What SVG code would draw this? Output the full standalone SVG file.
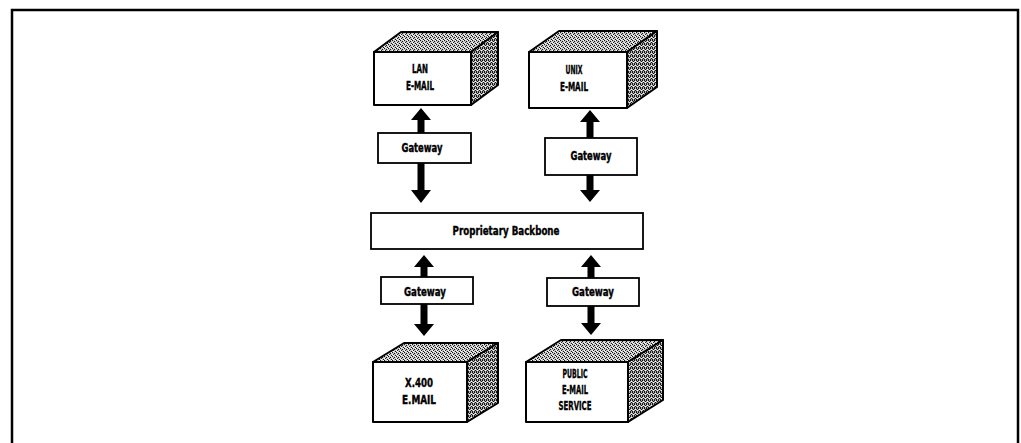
<svg xmlns="http://www.w3.org/2000/svg" width="1021" height="443" viewBox="0 0 1021 443">
  <defs>
    <!-- halftone stipple for the shaded faces of the boxes -->
    <pattern id="stippleTop" width="4" height="4" patternUnits="userSpaceOnUse">
      <rect width="4" height="4" fill="#c4c4c4"/>
      <rect x="0" y="0" width="1" height="1" fill="#111"/>
      <rect x="2" y="1" width="1" height="1" fill="#111"/>
      <rect x="3" y="3" width="1" height="1" fill="#111"/>
      <rect x="1" y="2" width="1" height="1" fill="#222"/>
      <rect x="3" y="0" width="1" height="1" fill="#fff"/>
      <rect x="1" y="3" width="1" height="1" fill="#fff"/>
      <rect x="0" y="2" width="1" height="1" fill="#fff"/>
    </pattern>
    <pattern id="stippleSide" width="4" height="4" patternUnits="userSpaceOnUse">
      <rect width="4" height="4" fill="#ababab"/>
      <rect x="0" y="0" width="1" height="1" fill="#111"/>
      <rect x="2" y="0" width="1" height="1" fill="#111"/>
      <rect x="1" y="1" width="1" height="1" fill="#111"/>
      <rect x="3" y="2" width="1" height="1" fill="#111"/>
      <rect x="0" y="3" width="1" height="1" fill="#111"/>
      <rect x="2" y="3" width="1" height="1" fill="#222"/>
      <rect x="3" y="1" width="1" height="1" fill="#fff"/>
      <rect x="1" y="2" width="1" height="1" fill="#fff"/>
    </pattern>
  </defs>
  <style>
    .frame { fill: none; stroke: #000; stroke-width: 2.5; }
    .front { fill: #fff; stroke: #000; stroke-width: 2; stroke-linejoin: round; }
    .top { fill: url(#stippleTop); stroke: #000; stroke-width: 2; stroke-linejoin: round; }
    .side { fill: url(#stippleSide); stroke: #000; stroke-width: 2; stroke-linejoin: round; }
    .rect { fill: #fff; stroke: #000; stroke-width: 1.8; }
    .arrow { fill: #000; stroke: none; }
    .lbl { font-family: "Liberation Sans Narrow", "DejaVu Sans Condensed", "Liberation Sans", sans-serif; font-stretch: condensed; font-weight: bold; font-size: 11.5px; fill: #000; stroke: #000; stroke-width: 0.35; text-anchor: middle; }
  </style>

  <rect class="frame" x="12" y="10" width="1006" height="450"/>

  <!-- connectors: block arrows between systems, gateways and backbone -->
  <g id="connectors">
    <polygon class="arrow" points="421,108 431,120 424.5,120 424.5,134 417.5,134 417.5,120 411,120"/>
    <polygon class="arrow" points="417.5,162 424.5,162 424.5,190 431,190 421,203 411,190 417.5,190"/>
    <polygon class="arrow" points="590,110 600,122 593.5,122 593.5,139 586.5,139 586.5,122 580,122"/>
    <polygon class="arrow" points="586.5,174 593.5,174 593.5,190 600,190 590,202 580,190 586.5,190"/>
    <polygon class="arrow" points="424,255 434,267 427.5,267 427.5,278 420.5,278 420.5,267 414,267"/>
    <polygon class="arrow" points="420.5,303 427.5,303 427.5,324 434,324 424,336 414,324 420.5,324"/>
    <polygon class="arrow" points="591,255 601,267 594.5,267 594.5,279 587.5,279 587.5,267 581,267"/>
    <polygon class="arrow" points="587.5,305 594.5,305 594.5,323 601,323 591,335 581,323 587.5,323"/>
  </g>

  <g id="lan-email">
    <polygon class="top" points="374,52 401,32 498,32 471,52"/>
    <polygon class="side" points="471,52 498,32 498,85 471,105"/>
    <rect class="front" x="374" y="52" width="97" height="53"/>
    <text class="lbl" x="420" y="73" textLength="16" lengthAdjust="spacingAndGlyphs">LAN</text>
    <text class="lbl" x="420" y="90" textLength="28" lengthAdjust="spacingAndGlyphs">E-MAIL</text>
  </g>

  <g id="unix-email">
    <polygon class="top" points="529,52 559,31 657,31 627,52"/>
    <polygon class="side" points="627,52 657,31 657,87 627,108"/>
    <rect class="front" x="529" y="52" width="98" height="56"/>
    <text class="lbl" x="574" y="74" textLength="17" lengthAdjust="spacingAndGlyphs">UNIX</text>
    <text class="lbl" x="574" y="91" textLength="28" lengthAdjust="spacingAndGlyphs">E-MAIL</text>
  </g>

  <g id="gateway-lan">
    <rect class="rect" x="378" y="133" width="93" height="30"/>
    <text class="lbl" x="422" y="152" textLength="41" lengthAdjust="spacingAndGlyphs">Gateway</text>
  </g>

  <g id="gateway-unix">
    <rect class="rect" x="545" y="138" width="92" height="37"/>
    <text class="lbl" x="591" y="160" textLength="41" lengthAdjust="spacingAndGlyphs">Gateway</text>
  </g>

  <g id="backbone">
    <rect class="rect" x="371" y="213" width="272" height="36"/>
    <text class="lbl" x="506" y="235" textLength="107" lengthAdjust="spacingAndGlyphs">Proprietary Backbone</text>
  </g>

  <g id="gateway-x400">
    <rect class="rect" x="381" y="277" width="92" height="27"/>
    <text class="lbl" x="425" y="296" textLength="42" lengthAdjust="spacingAndGlyphs">Gateway</text>
  </g>

  <g id="gateway-public">
    <rect class="rect" x="547" y="278" width="92" height="28"/>
    <text class="lbl" x="593" y="296" textLength="42" lengthAdjust="spacingAndGlyphs">Gateway</text>
  </g>

  <g id="x400-email">
    <polygon class="top" points="373,362 404,343 498,343 467,362"/>
    <polygon class="side" points="467,362 498,343 498,403 467,422"/>
    <rect class="front" x="373" y="362" width="94" height="60"/>
    <text class="lbl" x="419" y="387" textLength="28" lengthAdjust="spacingAndGlyphs">X.400</text>
    <text class="lbl" x="419" y="404" textLength="34" lengthAdjust="spacingAndGlyphs">E.MAIL</text>
  </g>

  <g id="public-email">
    <polygon class="top" points="526,362 561,340 663,340 628,362"/>
    <polygon class="side" points="628,362 663,340 663,400 628,422"/>
    <rect class="front" x="526" y="362" width="102" height="60"/>
    <text class="lbl" x="575" y="378" textLength="25" lengthAdjust="spacingAndGlyphs">PUBLIC</text>
    <text class="lbl" x="575" y="394" textLength="26" lengthAdjust="spacingAndGlyphs">E-MAIL</text>
    <text class="lbl" x="575" y="410" textLength="33" lengthAdjust="spacingAndGlyphs">SERVICE</text>
  </g>
</svg>
